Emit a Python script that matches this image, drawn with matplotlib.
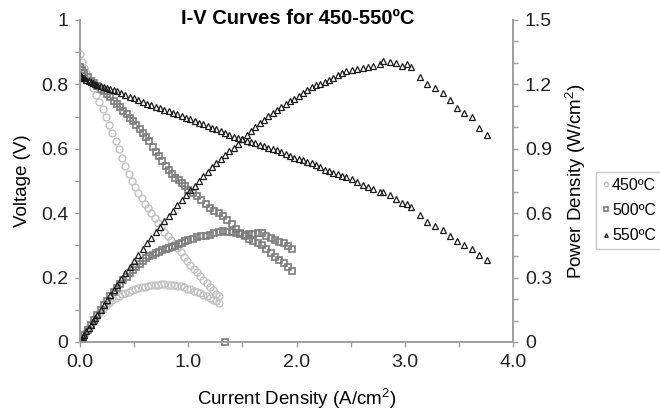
"""I-V and power density curves, 450-550 C, redrawn from the reference figure."""
import matplotlib
matplotlib.use('Agg')
import matplotlib.pyplot as plt
from matplotlib.ticker import MultipleLocator

plt.rcParams['font.family'] = ['Liberation Sans', 'DejaVu Sans']
plt.rcParams['mathtext.fontset'] = 'custom'
plt.rcParams['mathtext.rm'] = 'Liberation Sans'

# ---- data ----
# 450 C : current density (A/cm2), voltage (V), power density (W/cm2)
i450 = [0.00, 0.02, 0.04, 0.06, 0.09, 0.12, 0.15, 0.18, 0.21, 0.24, 0.27, 0.30,
        0.33, 0.36, 0.39, 0.42, 0.45, 0.48, 0.51, 0.54, 0.57, 0.60, 0.63, 0.66,
        0.69, 0.72, 0.75, 0.78, 0.81, 0.84, 0.87, 0.90, 0.93, 0.96, 0.99, 1.02,
        1.05, 1.08, 1.11, 1.14, 1.17, 1.20, 1.23, 1.26, 1.28]
v450 = [0.893, 0.871, 0.852, 0.836, 0.813, 0.790, 0.768, 0.746, 0.724, 0.700, 0.675, 0.650,
        0.624, 0.598, 0.572, 0.547, 0.523, 0.501, 0.481, 0.463, 0.446, 0.430, 0.415, 0.400,
        0.385, 0.371, 0.357, 0.343, 0.330, 0.317, 0.304, 0.291, 0.278, 0.265, 0.252, 0.240,
        0.228, 0.216, 0.204, 0.193, 0.182, 0.171, 0.160, 0.150, 0.144]
p450 = [0.000, 0.017, 0.034, 0.050, 0.073, 0.095, 0.115, 0.134, 0.152, 0.168, 0.182, 0.195,
        0.206, 0.215, 0.223, 0.230, 0.235, 0.240, 0.245, 0.250, 0.254, 0.258, 0.261, 0.264,
        0.266, 0.267, 0.268, 0.268, 0.267, 0.266, 0.264, 0.262, 0.259, 0.254, 0.249, 0.245,
        0.239, 0.233, 0.226, 0.220, 0.213, 0.205, 0.197, 0.189, 0.184]

# 500 C
i500 = [0.00, 0.02, 0.04, 0.07, 0.10, 0.13, 0.16, 0.19, 0.22, 0.25, 0.28, 0.31,
        0.34, 0.37, 0.40, 0.43, 0.46, 0.49, 0.52, 0.55, 0.58, 0.61, 0.64, 0.67,
        0.70, 0.73, 0.76, 0.79, 0.82, 0.85, 0.88, 0.91, 0.94, 0.97, 1.00, 1.04,
        1.08, 1.12, 1.16, 1.20, 1.24, 1.28, 1.32, 1.36, 1.40, 1.44, 1.48, 1.52,
        1.56, 1.60, 1.64, 1.68, 1.72, 1.76, 1.80, 1.84, 1.88, 1.92, 1.96]
v500 = [0.855, 0.846, 0.836, 0.823, 0.812, 0.803, 0.795, 0.787, 0.779, 0.770, 0.760, 0.750,
        0.740, 0.729, 0.718, 0.708, 0.697, 0.686, 0.674, 0.662, 0.650, 0.637, 0.623, 0.606,
        0.590, 0.577, 0.562, 0.548, 0.533, 0.522, 0.510, 0.502, 0.493, 0.483, 0.473, 0.462,
        0.452, 0.440, 0.428, 0.417, 0.408, 0.400, 0.392, 0.378, 0.365, 0.352, 0.340, 0.328,
        0.321, 0.315, 0.309, 0.302, 0.288, 0.276, 0.265, 0.254, 0.244, 0.232, 0.222]
p500 = [0.000, 0.017, 0.033, 0.058, 0.081, 0.104, 0.127, 0.150, 0.171, 0.193, 0.213, 0.233,
        0.252, 0.270, 0.287, 0.304, 0.321, 0.336, 0.350, 0.364, 0.377, 0.389, 0.399, 0.406,
        0.413, 0.421, 0.427, 0.433, 0.437, 0.444, 0.449, 0.457, 0.463, 0.469, 0.473, 0.480,
        0.488, 0.493, 0.496, 0.500, 0.506, 0.512, 0.517, 0.514, 0.511, 0.507, 0.503, 0.499,
        0.501, 0.504, 0.507, 0.507, 0.495, 0.486, 0.477, 0.467, 0.459, 0.445, 0.435]
# stray 500 C point lying on the x axis
i500_stray = [1.34]
v500_stray = [0.0]

# 550 C
i550 = [0.00, 0.01, 0.02, 0.03, 0.04, 0.06, 0.08, 0.10, 0.12, 0.14, 0.16, 0.19,
        0.22, 0.25, 0.28, 0.31, 0.34, 0.38, 0.42, 0.46, 0.50, 0.54, 0.58, 0.62,
        0.66, 0.70, 0.74, 0.78, 0.82, 0.86, 0.90, 0.94, 0.98, 1.02, 1.06, 1.10,
        1.14, 1.18, 1.22, 1.26, 1.30, 1.34, 1.38, 1.42, 1.46, 1.50, 1.54, 1.58,
        1.62, 1.66, 1.70, 1.74, 1.78, 1.82, 1.86, 1.90, 1.94, 1.98, 2.02, 2.06,
        2.10, 2.14, 2.18, 2.22, 2.26, 2.30, 2.34, 2.38, 2.42, 2.46, 2.51, 2.56,
        2.61, 2.66, 2.71, 2.77, 2.80, 2.86, 2.92, 2.97, 3.02, 3.06, 3.14, 3.21,
        3.28, 3.35, 3.42, 3.48, 3.55, 3.62, 3.69, 3.76]
v550 = [0.829, 0.826, 0.823, 0.821, 0.819, 0.815, 0.811, 0.807, 0.804, 0.801, 0.798, 0.795,
        0.792, 0.789, 0.786, 0.782, 0.779, 0.774, 0.768, 0.762, 0.757, 0.751, 0.745, 0.740,
        0.735, 0.730, 0.726, 0.721, 0.716, 0.712, 0.707, 0.702, 0.697, 0.692, 0.687, 0.681,
        0.676, 0.671, 0.666, 0.661, 0.655, 0.649, 0.644, 0.638, 0.633, 0.629, 0.625, 0.621,
        0.617, 0.613, 0.608, 0.604, 0.600, 0.595, 0.590, 0.584, 0.578, 0.572, 0.568, 0.564,
        0.560, 0.556, 0.549, 0.542, 0.535, 0.530, 0.526, 0.522, 0.517, 0.513, 0.505, 0.497,
        0.489, 0.482, 0.475, 0.467, 0.467, 0.456, 0.445, 0.433, 0.428, 0.418, 0.393, 0.374,
        0.360, 0.347, 0.330, 0.313, 0.300, 0.290, 0.270, 0.256]
p550 = [0.000, 0.008, 0.016, 0.025, 0.033, 0.049, 0.065, 0.081, 0.096, 0.112, 0.128, 0.151,
        0.174, 0.197, 0.220, 0.242, 0.265, 0.294, 0.323, 0.351, 0.379, 0.406, 0.432, 0.459,
        0.485, 0.511, 0.537, 0.562, 0.587, 0.612, 0.636, 0.660, 0.683, 0.706, 0.728, 0.749,
        0.771, 0.792, 0.813, 0.833, 0.852, 0.870, 0.889, 0.906, 0.924, 0.944, 0.963, 0.981,
        1.000, 1.018, 1.034, 1.051, 1.068, 1.083, 1.097, 1.110, 1.121, 1.133, 1.147, 1.162,
        1.176, 1.190, 1.197, 1.203, 1.209, 1.219, 1.231, 1.242, 1.251, 1.262, 1.268, 1.272,
        1.276, 1.282, 1.287, 1.294, 1.308, 1.304, 1.299, 1.286, 1.293, 1.279, 1.234, 1.201,
        1.181, 1.162, 1.129, 1.089, 1.065, 1.050, 0.996, 0.963]

labels = ['450\u00baC', '500\u00baC', '550\u00baC']
AXIS_GREY = '#a0a0a0'
C450, C500, C550 = '#c2c2c2', '#7c7c7c', '#1a1a1a'

fig = plt.figure(figsize=(6.6, 4.13), dpi=100)
ax = fig.add_axes([80 / 660, 1 - 342 / 413, 433 / 660, 322 / 413])
ax2 = ax.twinx()

sty450 = dict(marker='o', markersize=5.0, markeredgecolor=C450, markeredgewidth=1.0)
sty500 = dict(marker='s', markersize=4.6, markeredgecolor=C500, markeredgewidth=1.2)
sty550 = dict(marker='^', markersize=4.2, markeredgecolor=C550, markeredgewidth=0.9)
mk = dict(linestyle='none', markerfacecolor='none')

ax.plot(i450, v450, label=labels[0], **sty450, **mk)
ax.plot(i500, v500, label=labels[1], **sty500, **mk)
ax.plot(i500_stray, v500_stray, clip_on=False, **sty500, **mk)
ax.plot(i550, v550, label=labels[2], **sty550, **mk)

ax2.plot(i450, p450, **sty450, **mk)
ax2.plot(i500, p500, **sty500, **mk)
ax2.plot(i550, p550, **sty550, **mk)

ax.set_xlim(0, 4)
ax.set_ylim(0, 1)
ax2.set_ylim(0, 1.5)

ax.xaxis.set_minor_locator(MultipleLocator(0.5))
ax.yaxis.set_minor_locator(MultipleLocator(0.1))
ax2.yaxis.set_minor_locator(MultipleLocator(0.1))

ax.set_xticks([0, 1, 2, 3, 4])
ax.set_xticklabels(['0.0', '1.0', '2.0', '3.0', '4.0'])
ax.set_yticks([0, 0.2, 0.4, 0.6, 0.8, 1.0])
ax.set_yticklabels(['0', '0.2', '0.4', '0.6', '0.8', '1'])
ax2.set_yticks([0, 0.3, 0.6, 0.9, 1.2, 1.5])
ax2.set_yticklabels(['0', '0.3', '0.6', '0.9', '1.2', '1.5'])

for a in (ax, ax2):
    a.spines['top'].set_visible(False)
    for s in ('left', 'right', 'bottom'):
        a.spines[s].set_color(AXIS_GREY)
        a.spines[s].set_linewidth(1.3)
    a.tick_params(which='both', direction='out', color=AXIS_GREY, width=1.0, length=3.5,
                  labelsize=14, labelcolor='#222222', pad=5)

ax.set_xlabel('Current Density (A/cm$^2$)', fontsize=13.5, labelpad=11)
ax.set_ylabel('Voltage (V)', fontsize=13.5, labelpad=7)
ax2.set_ylabel('Power Density (W/cm$^2$)', fontsize=13.5, labelpad=8)

fig.text(298 / 660, 1 - 19 / 413, 'I-V Curves for 450-550\u00baC', ha='center', va='center',
         fontsize=14.5, fontweight='bold')

leg = ax.legend(loc='upper left', bbox_to_anchor=(596 / 660, 1 - 172 / 413),
                bbox_transform=fig.transFigure, fontsize=11.5, frameon=True, fancybox=False,
                handlelength=0.5, handletextpad=0.15, borderpad=0.35, labelspacing=0.65,
                borderaxespad=0, markerscale=0.6)
leg.get_frame().set_edgecolor('#bbbbbb')
leg.get_frame().set_linewidth(1.0)

fig.savefig('out.png', dpi=100)
